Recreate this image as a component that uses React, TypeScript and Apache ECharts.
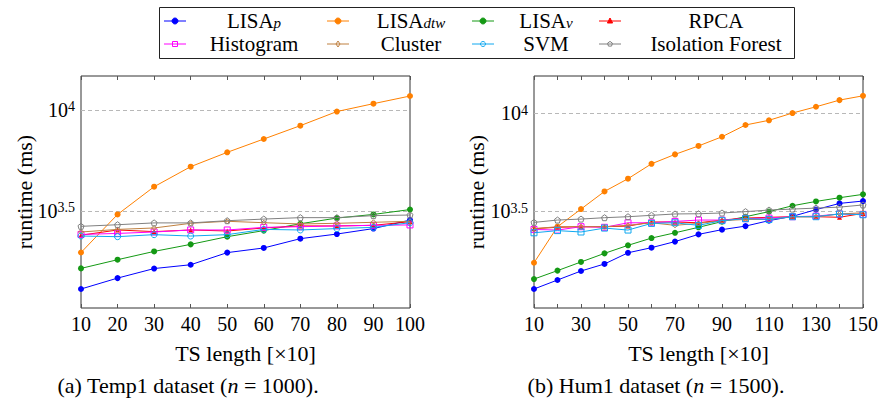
import React, { useEffect, useRef } from 'react';
import * as echarts from 'echarts';

const FONT = 'Times New Roman';

// TS length [x10]
const xTemp1 = [10, 20, 30, 40, 50, 60, 70, 80, 90, 100];
const xHum1 = [10, 20, 30, 40, 50, 60, 70, 80, 90, 100, 110, 120, 130, 140, 150];

// y tick exponents (labels 10^e)
const yTickExponents = [3.5, 4];

// runtime (ms), Temp1 dataset
const t1LisaP = [1300, 1472, 1641, 1714, 1968, 2075, 2307, 2432, 2588, 2851];
const t1LisaDtw = [1970, 3040, 4170, 5240, 6170, 7180, 8360, 9820, 10740, 11720];
const t1LisaV = [1644, 1815, 1995, 2162, 2360, 2529, 2735, 2917, 3041, 3214];
const t1Rpca = [2399, 2547, 2500, 2547, 2518, 2606, 2667, 2667, 2686, 2799];
const t1Histogram = [2421, 2449, 2489, 2547, 2547, 2624, 2643, 2667, 2686, 2698];
const t1Cluster = [2489, 2564, 2606, 2748, 2812, 2767, 2729, 2748, 2780, 2812];
const t1Svm = [2377, 2360, 2415, 2377, 2415, 2564, 2547, 2588, 2624, 2767];
const t1IsoForest = [2655, 2704, 2761, 2761, 2831, 2884, 2931, 2931, 2999, 3020];

// runtime (ms), Hum1 dataset
const h1LisaP = [1265, 1406, 1563, 1698, 1936, 2056, 2208, 2404, 2541, 2649, 2825, 2971, 3214, 3459, 3556];
const h1LisaDtw = [1722, 2630, 3236, 3981, 4624, 5508, 6152, 6793, 7568, 8690, 9183, 10000, 10765, 11641, 12246];
const h1LisaV = [1422, 1570, 1738, 1923, 2113, 2301, 2449, 2612, 2793, 2958, 3140, 3365, 3540, 3698, 3846];
const h1Rpca = [2570, 2612, 2630, 2630, 2649, 2780, 2780, 2754, 2844, 2911, 2938, 2958, 2958, 2938, 3076];
const h1Histogram = [2547, 2529, 2630, 2612, 2754, 2754, 2799, 2844, 2844, 2891, 2911, 2958, 2979, 3055, 3041];
const h1Cluster = [2570, 2630, 2630, 2630, 2673, 2754, 2673, 2735, 2825, 2864, 2864, 2958, 2958, 3055, 3097];
const h1Svm = [2449, 2512, 2472, 2588, 2529, 2735, 2754, 2673, 2825, 2891, 2864, 2958, 2958, 3055, 3027];
const h1IsoForest = [2767, 2844, 2877, 2924, 2958, 3006, 3055, 3063, 3090, 3140, 3199, 3236, 3273, 3311, 3396];

const seriesNames = ['LISA_p', 'LISA_dtw', 'LISA_v', 'RPCA', 'Histogram', 'Cluster', 'SVM', 'Isolation Forest'];
const legendLabels = ['LISA{sub|p}', 'LISA{sub|dtw}', 'LISA{sub|v}', 'RPCA', 'Histogram', 'Cluster', 'SVM', 'Isolation Forest'];
const colors = ['#0000ff', '#ff8000', '#149914', '#ff0000', '#ff00ff', '#bf8040', '#10a8f0', '#808080'];

const PENTAGON = 'path://M0,-1 L0.951,-0.309 L0.588,0.809 L-0.588,0.809 L-0.951,-0.309 Z';

type Mk = { symbol: string; size: number; filled: boolean };
const markersLeft: Mk[] = [
  { symbol: 'circle', size: 6, filled: true },
  { symbol: 'circle', size: 6, filled: true },
  { symbol: 'circle', size: 6, filled: true },
  { symbol: 'triangle', size: 5, filled: true },
  { symbol: 'rect', size: 6, filled: false },
  { symbol: 'diamond', size: 5, filled: false },
  { symbol: 'circle', size: 6, filled: false },
  { symbol: PENTAGON, size: 6, filled: false },
];
const markersRight: Mk[] = markersLeft.map((m, i) => (i === 6 ? { symbol: 'rect', size: 6, filled: false } : m));

const leftData = [t1LisaP, t1LisaDtw, t1LisaV, t1Rpca, t1Histogram, t1Cluster, t1Svm, t1IsoForest];
const rightData = [h1LisaP, h1LisaDtw, h1LisaV, h1Rpca, h1Histogram, h1Cluster, h1Svm, h1IsoForest];

function buildSeries(xs: number[], data: number[][], markers: Mk[], idx: number) {
  return data.map((vals, i) => {
    const c = colors[i];
    const m = markers[i];
    const s: any = {
      type: 'line',
      name: seriesNames[i] + (idx ? ' ' : ''),
      xAxisIndex: idx * 2,
      yAxisIndex: idx,
      data: xs.map((x, j) => [x, vals[j]]),
      symbol: m.symbol,
      symbolSize: m.size,
      showAllSymbol: true,
      lineStyle: { color: c, width: 1 },
      itemStyle: m.filled
        ? { color: c, borderWidth: 0 }
        : { color: 'rgba(255,255,255,0)', borderColor: c, borderWidth: 1 },
      emphasis: { disabled: true },
      z: 3 + i,
    };
    if (i === 0) {
      s.markLine = {
        silent: true,
        symbol: 'none',
        z: 1,
        lineStyle: { color: '#b8b8b8', type: [4, 3], width: 1 },
        label: {
          position: 'start',
          distance: 6,
          formatter: (p: any) => {
            const e = yTickExponents.find((ex) => Math.abs(Math.pow(10, ex) - p.value) < 1);
            return '10{sup|' + e + '}';
          },
          fontFamily: FONT,
          fontSize: 20,
          color: '#000',
          rich: {
            sup: { fontFamily: FONT, fontSize: 14, lineHeight: 12, verticalAlign: 'top', color: '#000' },
          },
        },
        data: yTickExponents.map((e) => ({ yAxis: Math.pow(10, e) })),
      };
    }
    return s;
  });
}

function xAxes(gridIndex: number, max: number, labelEvery: number, nameGap: number) {
  const base = {
    type: 'value',
    gridIndex,
    min: 10,
    max,
    interval: 10,
    axisLine: { show: false },
    splitLine: { show: false },
    axisTick: { show: true, inside: true, length: 4, lineStyle: { color: '#555' } },
  };
  return [
    {
      ...base,
      position: 'bottom',
      name: 'TS length [\u00d710]',
      nameLocation: 'middle',
      nameGap,
      nameTextStyle: { fontFamily: FONT, fontSize: 22, color: '#000' },
      axisLabel: {
        margin: 6,
        fontFamily: FONT,
        fontSize: 20,
        color: '#000',
        formatter: (v: number) => ((v - 10) % labelEvery === 0 ? String(v) : ''),
      },
    },
    { ...base, position: 'top', axisLabel: { show: false } },
  ];
}

function yAxis(gridIndex: number, min: number, max: number, nameGap: number) {
  return {
    type: 'log',
    logBase: 10,
    gridIndex,
    min,
    max,
    name: 'runtime (ms)',
    nameLocation: 'middle',
    nameGap,
    nameTextStyle: { fontFamily: FONT, fontSize: 22, color: '#000' },
    axisLine: { show: false },
    axisTick: { show: false },
    axisLabel: { show: false },
    splitLine: { show: false },
  };
}

const legendMarker = (i: number, cx: number, cy: number) => {
  const c = colors[i];
  const m = markersLeft[i];
  const stroke = { stroke: c, fill: m.filled ? c : 'rgba(255,255,255,0)', lineWidth: 1 };
  if (m.symbol === 'circle') return { type: 'circle', shape: { cx, cy, r: m.filled ? 3 : 2.5 }, style: stroke };
  if (m.symbol === 'rect') return { type: 'rect', shape: { x: cx - 2.5, y: cy - 2.5, width: 5, height: 5 }, style: stroke };
  if (m.symbol === 'triangle')
    return { type: 'polygon', shape: { points: [[cx, cy - 3], [cx + 2.6, cy + 2], [cx - 2.6, cy + 2]] }, style: stroke };
  if (m.symbol === 'diamond')
    return { type: 'polygon', shape: { points: [[cx, cy - 3], [cx + 2, cy], [cx, cy + 3], [cx - 2, cy]] }, style: stroke };
  const pts = [0, 1, 2, 3, 4].map((k) => {
    const a = -Math.PI / 2 + (k * 2 * Math.PI) / 5;
    return [cx + 2.6 * Math.cos(a), cy + 2.6 * Math.sin(a)];
  });
  return { type: 'polygon', shape: { points: pts }, style: stroke };
};

function buildLegend() {
  const markerX = [175, 338, 483, 610];
  const textX = [254, 411, 546, 716];
  const rowY = [21, 44];
  const els: any[] = [
    {
      type: 'rect',
      shape: { x: 159.5, y: 7.5, width: 635, height: 51 },
      style: { fill: '#fff', stroke: '#222', lineWidth: 1 },
      z: 10,
    },
  ];
  seriesNames.forEach((_, i) => {
    const col = i % 4;
    const row = Math.floor(i / 4);
    const mx = markerX[col];
    const y = rowY[row];
    els.push({ type: 'line', shape: { x1: mx - 11, y1: y, x2: mx + 11, y2: y }, style: { stroke: colors[i], lineWidth: 1 }, z: 11 });
    els.push({ ...legendMarker(i, mx, y), z: 12 });
    els.push({
      type: 'text',
      x: textX[col],
      y,
      z: 12,
      style: {
        text: legendLabels[i],
        fontFamily: FONT,
        fontSize: 21,
        lineHeight: 18,
        fill: '#000',
        align: 'center',
        verticalAlign: 'middle',
        rich: {
          sub: { fontFamily: FONT, fontSize: 15, fontStyle: 'italic', verticalAlign: 'bottom', lineHeight: 12, fill: '#000' },
        },
      },
    });
  });
  return els;
}

const captions = [
  { text: '(a) Temp1 dataset ({it|n} = 1000).', x: 188 },
  { text: '(b) Hum1 dataset ({it|n} = 1500).', x: 656 },
];

export default function App() {
  const ref = useRef<HTMLDivElement>(null);
  useEffect(() => {
    document.body.style.margin = '0';
    if (!ref.current) return;
    const chart = echarts.init(ref.current, undefined, { renderer: 'svg' });
    const option: any = {
      animation: false,
      grid: [
        { left: 81, top: 76, width: 329, height: 232, show: true, borderColor: '#333', borderWidth: 1, backgroundColor: 'transparent' },
        { left: 534, top: 76, width: 329, height: 232, show: true, borderColor: '#333', borderWidth: 1, backgroundColor: 'transparent' },
      ],
      xAxis: [...xAxes(0, 100, 10, 34), ...xAxes(1, 150, 20, 34)],
      yAxis: [yAxis(0, 1047, 14723, 46), yAxis(1, 1012, 15453, 47)],
      series: [...buildSeries(xTemp1, leftData, markersLeft, 0), ...buildSeries(xHum1, rightData, markersRight, 1)],
      graphic: [
        ...buildLegend(),
        ...captions.map((c) => ({
          type: 'text',
          x: c.x,
          y: 385,
          style: {
            text: c.text,
            fontFamily: FONT,
            fontSize: 22,
            fill: '#000',
            align: 'center',
            verticalAlign: 'middle',
            rich: { it: { fontFamily: FONT, fontSize: 22, fontStyle: 'italic', fill: '#000' } },
          },
        })),
      ],
    };
    chart.setOption(option);
    return () => chart.dispose();
  }, []);
  return <div ref={ref} style={{ width: 882, height: 407, background: '#fff' }} />;
}
